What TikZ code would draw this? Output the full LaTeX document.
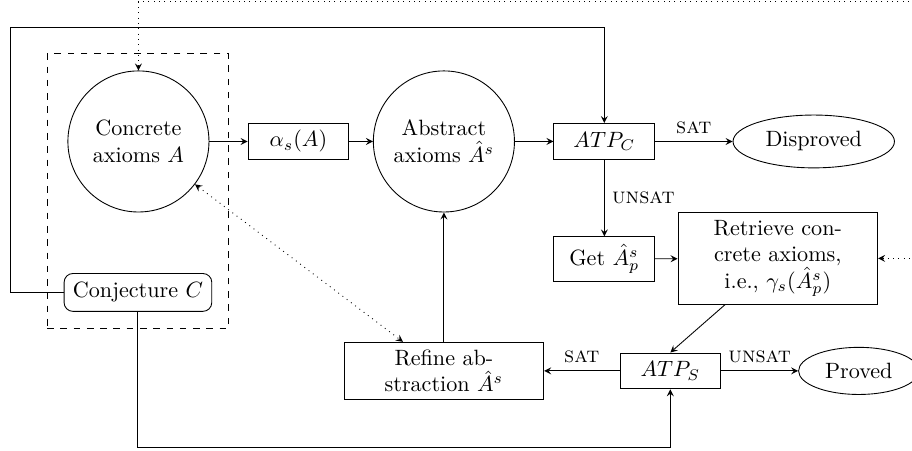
\documentclass[tikz,border=0pt]{standalone}
\usetikzlibrary{positioning,fit,shapes.geometric}
\begin{document}
\begin{tikzpicture}[>=stealth,
    caja/.style={draw,rectangle,minimum width=1.6cm,minimum height=0.57cm},
    bloque/.style={draw,rectangle,align=center,minimum width=3.17cm},
    circulo/.style={draw,circle,align=center,minimum size=2.24cm},
    elipse/.style={draw,ellipse,inner sep=4pt},
    etiq/.style={font=\normalsize}]

    \useasboundingbox (0,0) rectangle (14.48,-7.16);

    %Fila de arriba
    \node[circulo] (concretos) at (2.198,-2.246) {Concrete\\axioms $A$};
    \node[caja] (alfa) at (4.738,-2.246) {$\alpha_s(A)$};
    \node[circulo] (abstractos) at (7.048,-2.246) {Abstract\\axioms $\hat{A}^s$};
    \node[caja] (atpc) at (9.595,-2.246) {$ATP_C$};
    \node[elipse] (refutado) at (12.92,-2.246) {Disproved};

    %Fila del medio
    \node[caja] (obtener) at (9.595,-4.111) {Get $\hat{A}^s_p$};
    \node[bloque] (recuperar) at (12.35,-4.103) {Retrieve con-\\crete axioms,\\i.e., $\gamma_s(\hat{A}^s_p)$};
    \node[draw,rounded corners,inner sep=4pt] (conjetura) at (2.19,-4.643) {Conjecture $C$};

    %Fila de abajo
    \node[bloque] (refinar) at (7.048,-5.889) {Refine ab-\\straction $\hat{A}^s$};
    \node[caja] (atps) at (10.643,-5.889) {$ATP_S$};
    \node[elipse] (probado) at (13.635,-5.889) {Proved};

    %Entrada
    \node[draw,dashed,fit=(concretos)(conjetura),inner sep=7.5pt] (entrada) {};

    \coordinate (esquina) at (0.16,-0.44);
    \coordinate (abajo) at (10.643,-7.11);
    \coordinate (derecha) at (14.8,-0.03);

    %Flechas
    \draw[->] (concretos) -- (alfa);
    \draw[->] (alfa) -- (abstractos);
    \draw[->] (abstractos) -- (atpc);
    \draw[->] (atpc) -- node[above,etiq]{\textsc{sat}} (refutado);
    \draw[->] (atpc) -- node[right,etiq]{\textsc{unsat}} (obtener);
    \draw[->] (obtener) -- (recuperar);
    \draw[->] (recuperar) -- (atps.north);
    \draw[->] (atps) -- node[above,etiq]{\textsc{sat}} (refinar);
    \draw[->] (atps) -- node[above,etiq]{\textsc{unsat}} (probado);
    \draw[->] (refinar) -- (abstractos);
    \draw[->] (conjetura.west) -| (esquina) -| (atpc);
    \draw[->] (conjetura) |- (abajo) -- (atps);

    %Punteadas
    \draw[dotted,<->] (recuperar) -| (derecha) -| (concretos);
    \draw[dotted,<->] (concretos) -- ([xshift=-0.65cm]refinar.north);

\end{tikzpicture}
\end{document}
